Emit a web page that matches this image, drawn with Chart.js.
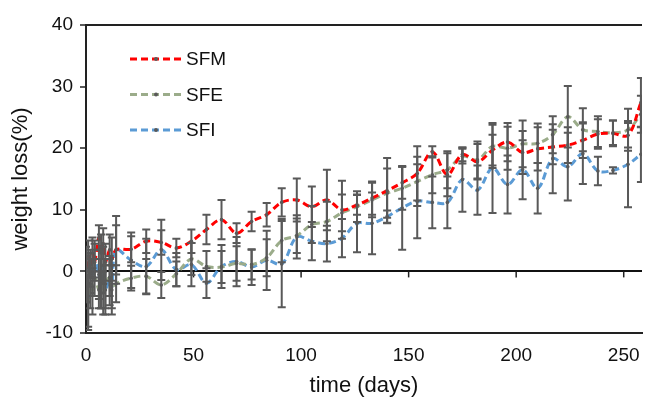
<!DOCTYPE html>
<html>
<head>
  <meta charset="UTF-8">
  <title>weight loss</title>
  <script src="https://cdn.jsdelivr.net/npm/chart.js"></script>
  <style>
    html, body { margin: 0; padding: 0; background: #fff; }
    #box { width: 646px; height: 399px; }
  </style>
</head>
<body>
<div id="box"><canvas id="grafico"></canvas></div>

<script>
// dados (dias e perda de peso em %)
const days = [0, 1, 2, 3, 4, 6, 7, 8, 9, 11, 12, 14,
  21, 28, 35, 42, 49, 56, 63, 70, 77, 84,
  91, 98, 105, 112, 119, 126, 133, 140, 147, 154,
  161, 168, 175, 182, 189, 196, 203, 210, 217, 224,
  231, 238, 245, 252, 258];

const sfm = [0.5, 2.5, 1.0, 3.0, 1.5, 5.5, 3.0, 4.5, 1.5, 3.5, 2.0, 3.5,
  3.6, 4.9, 4.7, 3.8, 4.9, 6.8, 8.4, 6.2, 8.1, 9.2,
  11.2, 11.6, 10.5, 11.6, 10.0, 10.8, 11.9, 13.1, 14.4, 15.9,
  19.4, 15.7, 19.0, 17.8, 19.7, 21.0, 19.3, 19.9, 20.2, 20.5,
  21.3, 22.3, 22.4, 22.1, 27.4];
const sfe = [-1, -5, -2, -3.5, -1, -3, -2, -3.5, -2, -1, -3, -2,
  -1.1, -0.8, -2.2, -0.4, 2.0, 0.8, 0.7, 1.3, 1.1, 2.2,
  5.0, 5.8, 7.6, 8.1, 9.5, 10.5, 11.6, 12.7, 13.5, 14.6,
  15.7, 16.5, 18.7, 18.1, 20.3, 20.0, 20.7, 20.8, 22.2, 25.1,
  23.0, 22.7, 22.5, 23.0, 25.5];
const sfi = [1, -4.5, 0.5, -1, 2, -0.5, -2, 1, -3, -1.5, -2.5, 3.5,
  1.8, 0.8, 3.5, 0.3, 1.1, -1.9, 0.8, 1.6, 0.7, 1.8,
  1.2, 5.6, 4.9, 4.5, 5.4, 7.8, 7.8, 8.9, 10.3, 11.4,
  11.2, 11.2, 14.9, 13.2, 16.8, 14.1, 16.5, 13.5, 18.3, 17.0,
  19.1, 16.3, 16.4, 17.4, 19.0];

// desvios (barras de erro)
const errM = [1.5, 2.5, 2, 2.5, 3, 2, 3, 2.5, 3, 2.5, 3.5, 4,
  2.1, 1.9, 2.0, 1.5, 1.9, 2.4, 3.2, 1.6, 1.6, 1.9,
  2.3, 3.5, 3.3, 4.9, 4.7, 1.6, 2.7, 5.3, 2.6, 4.4,
  0.9, 3.5, 1.1, 2.9, 2.5, 3.1, 3.5, 3.5, 2.8, 2.9,
  2.9, 2.4, 2.1, 2.0, 4.0];
const errE = [4, 4.5, 4, 3.5, 3, 3, 4, 3.5, 4, 3, 4, 3,
  2.0, 2.8, 2.1, 2.0, 2.6, 2.5, 2.6, 2.8, 2.4, 3.0,
  3.5, 2.8, 3.0, 3.2, 3.0, 2.5, 2.8, 4.0, 3.5, 4.0,
  3.0, 3.0, 1.2, 3.0, 3.5, 3.5, 3.8, 3.2, 3.0, 5.0,
  3.5, 2.5, 2.0, 3.4, 3.0];
const errI = [3, 4.5, 3, 3, 3, 4, 4, 3, 4, 4, 3.5, 5.5,
  4.5, 4.5, 4.9, 2.7, 3.5, 2.4, 3.5, 4.0, 2.9, 4.8,
  7.0, 3.5, 3.1, 2.9, 3.1, 4.7, 5.0, 1.0, 6.8, 6.0,
  4.2, 4.2, 5.2, 4.0, 7.3, 4.7, 4.8, 4.1, 5.6, 5.5,
  4.9, 2.3, 0.5, 7.0, 4.5];

const seriesNames = ['SFM', 'SFE', 'SFI'];
const xTicks = [0, 50, 100, 150, 200, 250];
const yTicks = [-10, 0, 10, 20, 30, 40];

const cores = ['#ff0000', 'rgb(155,172,138)', 'rgb(91,155,213)'];
const valores = [sfm, sfe, sfi];
const erros = [errM, errE, errI];
const fonte = "'Liberation Sans', Arial, sans-serif";

function pontos(arr) {
  return days.map((d, i) => ({ x: d, y: arr[i] }));
}

// barras de erro, moldura e marcas no eixo zero
const extras = {
  id: 'extras',
  beforeDatasetsDraw(chart) {
    const { ctx, chartArea: a, scales } = chart;
    ctx.save();
    ctx.strokeStyle = '#222';
    ctx.lineWidth = 2;
    ctx.beginPath();
    ctx.moveTo(a.left, a.top);
    ctx.lineTo(a.right, a.top);
    ctx.stroke();
    // marcas do eixo x sobre a linha do zero
    const y0 = scales.y.getPixelForValue(0);
    ctx.lineWidth = 1.5;
    scales.x.ticks.forEach(t => {
      if (t.value === 0) return;
      const px = scales.x.getPixelForValue(t.value);
      ctx.beginPath();
      ctx.moveTo(px, y0);
      ctx.lineTo(px, y0 + 6);
      ctx.stroke();
    });
    ctx.restore();
  },
  afterDatasetsDraw(chart) {
    const { ctx, chartArea: a, scales } = chart;
    ctx.save();
    ctx.beginPath();
    ctx.rect(a.left, a.top, a.right - a.left, a.bottom - a.top);
    ctx.clip();
    ctx.strokeStyle = '#595959';
    ctx.lineWidth = 2;
    valores.forEach((vals, s) => {
      vals.forEach((v, i) => {
        const e = erros[s][i];
        const px = scales.x.getPixelForValue(days[i]);
        const top = scales.y.getPixelForValue(v + e);
        const bot = scales.y.getPixelForValue(v - e);
        ctx.beginPath();
        ctx.moveTo(px, top); ctx.lineTo(px, bot);
        ctx.moveTo(px - 4, top); ctx.lineTo(px + 4, top);
        ctx.moveTo(px - 4, bot); ctx.lineTo(px + 4, bot);
        ctx.stroke();
      });
    });
    ctx.restore();
  },
  afterDraw(chart) {
    // legenda dentro do grafico
    const { ctx } = chart;
    ctx.save();
    seriesNames.forEach((nome, i) => {
      const y = 59 + i * 35.5;
      ctx.strokeStyle = cores[i];
      ctx.lineWidth = 3;
      ctx.setLineDash([7, 4]);
      ctx.beginPath();
      ctx.moveTo(130, y);
      ctx.lineTo(181, y);
      ctx.stroke();
      ctx.setLineDash([]);
      ctx.fillStyle = '#595959';
      ctx.beginPath();
      ctx.arc(156, y, 2, 0, Math.PI * 2);
      ctx.fill();
      ctx.fillStyle = '#111';
      ctx.font = '19px ' + fonte;
      ctx.textBaseline = 'middle';
      ctx.fillText(nome, 186, y + 1);
    });
    ctx.restore();
  }
};

const ctx = document.getElementById('grafico').getContext('2d');
new Chart(ctx, {
  type: 'line',
  data: {
    datasets: seriesNames.map((nome, i) => ({
      label: nome,
      data: pontos(valores[i]),
      borderColor: cores[i],
      borderWidth: 3,
      borderDash: [7, 4],
      tension: 0.35,
      pointRadius: 1.8,
      pointBackgroundColor: '#595959',
      pointBorderWidth: 0,
      fill: false
    }))
  },
  options: {
    responsive: true,
    maintainAspectRatio: false,
    animation: false,
    layout: { padding: { top: 25, right: 0, left: 0, bottom: 0 } },
    plugins: {
      legend: { display: false },
      tooltip: { enabled: false }
    },
    scales: {
      x: {
        type: 'linear',
        min: 0,
        max: 258.5,
        afterBuildTicks: s => { s.ticks = xTicks.map(v => ({ value: v })); },
        afterFit: s => { s.height = 66; s.paddingRight = 0; s.paddingLeft = 0; },
        ticks: { color: '#111', font: { family: fonte, size: 19 }, padding: 11, maxRotation: 0 },
        grid: { drawOnChartArea: false, drawTicks: false },
        border: { color: '#222', width: 2 },
        title: { display: true, text: 'time (days)', color: '#111', font: { family: fonte, size: 22 }, padding: { top: 0, bottom: 0 } }
      },
      y: {
        min: -10,
        max: 40,
        afterBuildTicks: s => { s.ticks = yTicks.map(v => ({ value: v })); },
        afterFit: s => { s.width = 86; },
        ticks: { color: '#111', font: { family: fonte, size: 19 }, padding: 7 },
        grid: {
          color: c => (c.tick && c.tick.value === 0) ? '#111' : 'rgba(0,0,0,0)',
          lineWidth: 2,
          tickColor: '#222',
          tickLength: 6,
          tickWidth: 1.5
        },
        border: { color: '#222', width: 2 },
        title: { display: true, text: 'weight loss(%)', color: '#111', font: { family: fonte, size: 22 }, padding: { top: 8, bottom: 0 } }
      }
    }
  },
  plugins: [extras]
});
</script>
</body>
</html>
